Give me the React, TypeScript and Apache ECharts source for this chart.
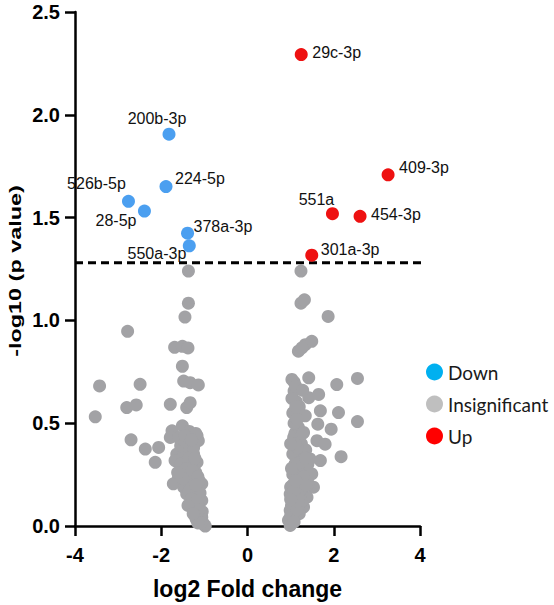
import React, { useEffect, useRef } from "react";
import * as echarts from "echarts";

// ---- data ----
const downNames = ["200b-3p", "224-5p", "526b-5p", "28-5p", "378a-3p", "550a-3p"];
const downX = [-1.82, -1.89, -2.76, -2.39, -1.39, -1.35];
const downY = [1.906, 1.651, 1.579, 1.532, 1.424, 1.363];

const upNames = ["29c-3p", "409-3p", "551a", "454-3p", "301a-3p"];
const upX = [1.246, 3.26, 1.97, 2.61, 1.49];
const upY = [2.293, 1.708, 1.519, 1.506, 1.317];

const insigLeftX = [
  -1.37, -1.37, -1.45, -2.78, -1.69, -1.51, -1.38, -1.51, -1.48, -1.33, -1.14, -3.43, -2.49,
  -2.8, -2.58, -1.79, -1.41, -1.33, -3.53, -2.7, -2.37, -2.06, -2.14, -1.75, -1.51, -1.79,
  -1.17, -1.14, -1.33, -1.64, -1.68, -1.45, -1.17, -1.37, -1.6, -1.72, -1.48, -1.25, -1.06,
  -1.41, -1.21, -1.06, -1.29, -1.14, -1.21, -1.06, -1.1, -1.02, -0.98, -1.25, -1.33, -1.17,
  -1.05, -1.15, -1.25, -1.1, -1.3, -1.4, -1.2, -1.5, -1.3, -1.55, -1.4, -1.25, -1.2, -1.35,
  -1.6, -1.45, -1.12, -1.18, -1.45, -1.3, -1.5, -1.35, -1.22, -1.55, -1.42, -1.28, -1.15,
  -1.45, -1.35, -1.2, -1.3, -1.18, -1.12, -1.2, -1.08, -1.15, -1.38, -1.5, -1.62, -1.26,
];
const insigLeftY = [
  1.24, 1.084, 1.016, 0.947, 0.869, 0.874, 0.866, 0.777, 0.705, 0.697, 0.686, 0.681, 0.689,
  0.576, 0.589, 0.592, 0.576, 0.6, 0.531, 0.419, 0.374, 0.382, 0.31, 0.463, 0.487, 0.431,
  0.439, 0.415, 0.398, 0.35, 0.318, 0.334, 0.31, 0.285, 0.237, 0.205, 0.189, 0.221, 0.205,
  0.156, 0.14, 0.124, 0.108, 0.076, 0.06, 0.044, 0.028, 0.011, 0.0, 0.35, 0.253, 0.173,
  0.07, 0.1, 0.17, 0.16, 0.2, 0.23, 0.26, 0.27, 0.31, 0.39, 0.36, 0.38, 0.45, 0.46, 0.43,
  0.41, 0.22, 0.03, 0.44, 0.42, 0.33, 0.33, 0.33, 0.3, 0.28, 0.27, 0.24, 0.2, 0.17, 0.2,
  0.13, 0.12, 0.08, 0.04, 0.015, 0.015, 0.1, 0.23, 0.26, 0.06,
];

const insigRightX = [
  1.24, 1.24, 1.32, 1.87, 1.18, 1.34, 1.49, 1.26, 1.03, 1.42, 2.07, 2.55, 1.08, 1.13, 1.42,
  1.65, 1.69, 2.11, 2.55, 1.18, 1.34, 1.63, 1.94, 1.07, 1.3, 1.61, 1.8, 2.17, 1.15, 1.22,
  1.45, 1.69, 1.11, 1.07, 1.34, 1.49, 1.53, 1.18, 0.99, 1.38, 1.15, 1.3, 0.99, 1.11, 0.95,
  0.99, 1.22, 1.41, 1.0, 1.24, 1.05, 1.1, 1.2, 1.05, 1.25, 1.15, 1.3, 1.4, 1.25, 1.35, 1.05,
  1.1, 1.18, 1.05, 1.2, 1.08, 1.12, 1.28, 1.06, 1.02, 1.05, 1.2, 1.3, 1.1, 1.22, 1.35, 1.15,
  1.28, 1.1, 1.0, 1.08, 1.15, 1.25, 1.08, 1.18, 1.35, 1.0, 1.12, 1.02, 1.0, 1.08, 1.15,
  1.03, 1.12,
];
const insigRightY = [
  1.24, 1.084, 1.1, 1.019, 0.85, 0.882, 0.898, 0.866, 0.713, 0.721, 0.688, 0.718, 0.657, 0.605,
  0.624, 0.64, 0.56, 0.552, 0.508, 0.527, 0.536, 0.495, 0.471, 0.431, 0.455, 0.415, 0.398,
  0.337, 0.382, 0.35, 0.326, 0.318, 0.301, 0.253, 0.237, 0.253, 0.189, 0.205, 0.156, 0.14,
  0.108, 0.092, 0.076, 0.052, 0.028, 0.003, 0.164, 0.205, 0.19, 0.12, 0.2, 0.14, 0.06, 0.04,
  0.18, 0.27, 0.28, 0.3, 0.4, 0.37, 0.35, 0.45, 0.48, 0.55, 0.58, 0.7, 0.68, 0.66, 0.12, 0.1,
  0.25, 0.23, 0.24, 0.3, 0.31, 0.33, 0.38, 0.45, 0.4, 0.05, 0.02, 0.08, 0.12, 0.17, 0.12,
  0.2, 0.13, 0.22, 0.28, 0.4, 0.5, 0.52, 0.62, 0.58,
];

const threshold = 1.28;
const xTicks = { min: -4, max: 4, interval: 2 };
const yTicks = { min: 0, max: 2.5, interval: 0.5 };
const legendNames = ["Down", "Insignificant", "Up"];

// ---- label layout (style, not data) ----
const labelLayout: Record<string, { align: string; offset: [number, number] }> = {
  "200b-3p": { align: "center", offset: [-12, -16] },
  "224-5p": { align: "left", offset: [9, -8] },
  "526b-5p": { align: "center", offset: [-32, -18] },
  "28-5p": { align: "right", offset: [-8, 9] },
  "378a-3p": { align: "left", offset: [6, -7] },
  "550a-3p": { align: "right", offset: [-3, 8] },
  "29c-3p": { align: "left", offset: [11, -2] },
  "409-3p": { align: "left", offset: [11, -7] },
  "551a": { align: "center", offset: [-16, -14] },
  "454-3p": { align: "left", offset: [11, -2] },
  "301a-3p": { align: "left", offset: [9, -6] },
};

const COLORS = {
  down: "#4b9ff0",
  insig: "#a2a2a5",
  up: "#ee1111",
  legDown: "#00b0f0",
  legInsig: "#bfbfbf",
  legUp: "#ff0000",
};

const FONT = "'Liberation Sans', Arial, Helvetica, sans-serif";

function labeled(names: string[], xs: number[], ys: number[]) {
  return names.map((n, i) => {
    const l = labelLayout[n];
    return {
      value: [xs[i], ys[i]],
      name: n,
      label: {
        show: true,
        position: "inside",
        formatter: n,
        align: l.align,
        verticalAlign: "middle",
        offset: l.offset,
        color: "#111",
        fontSize: 16,
        fontFamily: FONT,
      },
    };
  });
}

export default function App() {
  const ref = useRef<HTMLDivElement>(null);
  useEffect(() => {
    document.body.style.margin = "0";
    const chart = echarts.init(ref.current!, null, { renderer: "svg" });
    const insigData = [
      ...insigLeftX.map((x, i) => [x, insigLeftY[i]]),
      ...insigRightX.map((x, i) => [x, insigRightY[i]]),
    ];
    const axisLine = { show: true, lineStyle: { color: "#000", width: 2.5 } };
    const axisTick = { show: true, inside: false, length: 10, lineStyle: { color: "#000", width: 2.5 } };
    chart.setOption({
      animation: false,
      backgroundColor: "#fff",
      grid: { left: 75, right: 134, top: 12, bottom: 76, containLabel: false },
      xAxis: {
        type: "value",
        ...xTicks,
        name: "log2 Fold change",
        nameLocation: "middle",
        nameGap: 51,
        nameTextStyle: { fontSize: 23, fontWeight: "bold", color: "#000", fontFamily: FONT },
        axisLine: { ...axisLine, onZero: false },
        axisTick,
        splitLine: { show: false },
        axisLabel: { fontSize: 20, fontWeight: "bold", color: "#000", margin: 19, fontFamily: FONT },
      },
      yAxis: {
        type: "value",
        ...yTicks,
        axisLine: { ...axisLine, onZero: false },
        axisTick,
        splitLine: { show: false },
        axisLabel: {
          fontSize: 20,
          fontWeight: "bold",
          color: "#000",
          margin: 15,
          fontFamily: FONT,
          formatter: (v: number) => v.toFixed(1),
        },
      },
      legend: {
        orient: "vertical",
        left: 421,
        top: 357,
        itemWidth: 17,
        itemHeight: 17,
        itemGap: 12,
        icon: "circle",
        textStyle: { fontSize: 19, color: "#1a1a1a", fontFamily: "Lato, 'Open Sans', sans-serif", lineHeight: 20 },
        data: [
          { name: legendNames[0], itemStyle: { color: COLORS.legDown } },
          { name: legendNames[1], itemStyle: { color: COLORS.legInsig } },
          { name: legendNames[2], itemStyle: { color: COLORS.legUp } },
        ],
      },
      graphic: [
        {
          type: "text",
          x: 15,
          y: 271,
          rotation: Math.PI / 2,
          scaleX: 1.3,
          scaleY: 0.95,
          style: {
            text: "-log10 (p value)",
            font: `bold 18px ${FONT}`,
            fill: "#000",
            textAlign: "center",
            textVerticalAlign: "middle",
          },
        },
      ],
      series: [
        {
          name: "Insignificant",
          type: "scatter",
          symbolSize: 13,
          itemStyle: { color: COLORS.insig, opacity: 1 },
          data: insigData,
          z: 2,
        },
        {
          name: "threshold",
          type: "line",
          data: [
            [xTicks.min, threshold],
            [4.25, threshold],
          ],
          symbol: "none",
          clip: false,
          silent: true,
          lineStyle: { color: "#000", width: 3, type: [8, 5] },
          z: 3,
        },
        {
          name: "Down",
          type: "scatter",
          symbolSize: 13,
          itemStyle: { color: COLORS.down, opacity: 1 },
          data: labeled(downNames, downX, downY),
          z: 4,
        },
        {
          name: "Up",
          type: "scatter",
          symbolSize: 13,
          itemStyle: { color: COLORS.up, opacity: 1 },
          data: labeled(upNames, upX, upY),
          z: 4,
        },
      ],
    });
    return () => chart.dispose();
  }, []);
  return <div ref={ref} style={{ width: 554, height: 605 }} />;
}
